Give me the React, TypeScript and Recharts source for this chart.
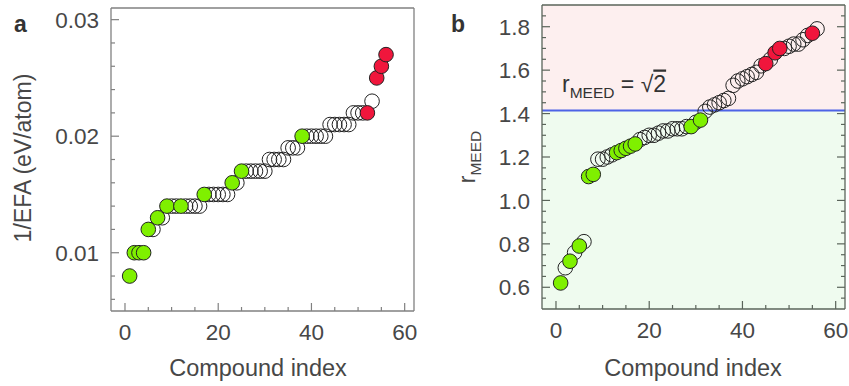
import React from 'react';
import { ScatterChart, Scatter, XAxis, YAxis, ReferenceArea, ReferenceLine } from 'recharts';

// compound index (x) shared by both panels
const compoundIndex = [
  1, 2, 3, 4, 5, 6, 7, 8, 9, 10, 11, 12, 13, 14, 15, 16, 17, 18, 19, 20,
  21, 22, 23, 24, 25, 26, 27, 28, 29, 30, 31, 32, 33, 34, 35, 36, 37, 38, 39, 40,
  41, 42, 43, 44, 45, 46, 47, 48, 49, 50, 51, 52, 53, 54, 55, 56,
];

// panel a: 1/EFA (eV/atom), sorted
const invEfa = [
  0.008, 0.010, 0.010, 0.010, 0.012, 0.012, 0.013, 0.013,
  0.014, 0.014, 0.014, 0.014, 0.014, 0.014, 0.014, 0.014,
  0.015, 0.015, 0.015, 0.015, 0.015, 0.015, 0.016, 0.016,
  0.017, 0.017, 0.017, 0.017, 0.017, 0.017, 0.018, 0.018, 0.018, 0.018,
  0.019, 0.019, 0.019, 0.020, 0.020, 0.020, 0.020, 0.020, 0.020,
  0.021, 0.021, 0.021, 0.021, 0.021, 0.022, 0.022, 0.022, 0.022,
  0.023, 0.025, 0.026, 0.027,
];
const efaGreen = [1, 2, 3, 4, 5, 7, 9, 12, 17, 23, 25, 38];
const efaRed = [52, 54, 55, 56];

// panel b: r_MEED, sorted
const rMeed = [
  0.62, 0.69, 0.72, 0.76, 0.79, 0.81, 1.11, 1.12, 1.19, 1.19, 1.20, 1.21,
  1.22, 1.23, 1.24, 1.25, 1.26, 1.28, 1.29, 1.30, 1.30, 1.31, 1.32, 1.32,
  1.33, 1.33, 1.33, 1.34, 1.34, 1.36, 1.37, 1.41, 1.43, 1.44, 1.45, 1.46,
  1.47, 1.53, 1.55, 1.56, 1.57, 1.58, 1.59, 1.62, 1.63, 1.65, 1.68, 1.70,
  1.70, 1.71, 1.72, 1.72, 1.74, 1.76, 1.77, 1.79,
];
const rGreen = [1, 3, 5, 7, 8, 13, 14, 15, 16, 17, 29, 31];
const rRed = [45, 47, 48, 55];
const rThreshold = Math.SQRT2;

// ticks
const xTicks = [0, 5, 10, 15, 20, 25, 30, 35, 40, 45, 50, 55, 60];
const xMajor = [0, 20, 40, 60];
const efaTicks = [0.006, 0.008, 0.01, 0.012, 0.014, 0.016, 0.018, 0.02, 0.022, 0.024, 0.026, 0.028, 0.03];
const efaMajor = [0.01, 0.02, 0.03];
const rTicks = [
  0.55, 0.6, 0.65, 0.7, 0.75, 0.8, 0.85, 0.9, 0.95, 1, 1.05, 1.1, 1.15, 1.2, 1.25,
  1.3, 1.35, 1.4, 1.45, 1.5, 1.55, 1.6, 1.65, 1.7, 1.75, 1.8, 1.85,
];
const rMajor = [0.6, 0.8, 1, 1.2, 1.4, 1.6, 1.8];

const FONT = '"Liberation Sans", Arial, sans-serif';
const TEXT = '#474747';
const GREEN = '#7ff000';
const RED = '#f0163c';

const split = (vals: number[], green: number[], red: number[]) => {
  const pts = compoundIndex.map((x, i) => ({ x, y: vals[i] }));
  return {
    open: pts.filter(p => !green.includes(p.x) && !red.includes(p.x)),
    green: pts.filter(p => green.includes(p.x)),
    red: pts.filter(p => red.includes(p.x)),
  };
};

const efaPts = split(invEfa, efaGreen, efaRed);
const rPts = split(rMeed, rGreen, rRed);

const dot = (fill: string) => (p: any) => (
  <circle cx={p.cx} cy={p.cy} r={7.3} fill={fill} stroke="#222" strokeWidth={1} />
);

// inward tick marks, labels only on majors
const axisTick = (side: string, majors: number[], color: string, fmt?: (v: number) => string) => (props: any) => {
  const { x, y, payload } = props;
  const v = payload.value;
  const major = majors.includes(v);
  const len = major ? 8 : 4;
  const label = fmt && major ? fmt(v) : '';
  if (side === 'left') {
    return (
      <g>
        <line x1={x} x2={x + len} y1={y} y2={y} stroke={color} strokeWidth={1.2} />
        {label && (
          <text x={x - 12} y={y} dy="0.36em" textAnchor="end" fontSize={22.5} fontFamily={FONT} fill={TEXT}>{label}</text>
        )}
      </g>
    );
  }
  if (side === 'right') {
    return <line x1={x} x2={x - len} y1={y} y2={y} stroke={color} strokeWidth={1.2} />;
  }
  if (side === 'top') {
    return <line x1={x} x2={x} y1={y} y2={y + len} stroke={color} strokeWidth={1.2} />;
  }
  return (
    <g>
      <line x1={x} x2={x} y1={y} y2={y - len} stroke={color} strokeWidth={1.2} />
      {label && (
        <text x={x} y={y + 29} textAnchor="middle" fontSize={22.5} fontFamily={FONT} fill={TEXT}>{label}</text>
      )}
    </g>
  );
};

const FRAME_A = '#808080';
const FRAME_B = '#5a645a';

export default function App() {
  return (
    <div style={{ position: 'absolute', left: 0, top: 0, width: 849, height: 386, background: '#fff', fontFamily: FONT }}>
      {/* panel a */}
      <div style={{ position: 'absolute', left: 0, top: 0 }}>
        <ScatterChart width={430} height={386} margin={{ top: 0, right: 0, bottom: 0, left: 0 }}>
          <XAxis
            xAxisId="b" type="number" dataKey="x" domain={[-3, 62]} allowDataOverflow
            ticks={xTicks} interval={0} height={75} tickSize={0} tickMargin={0} tickLine={false}
            axisLine={{ stroke: FRAME_A, strokeWidth: 1.3 }}
            tick={axisTick('bottom', xMajor, FRAME_A, v => String(v))}
          />
          <XAxis
            xAxisId="t" orientation="top" type="number" domain={[-3, 62]} allowDataOverflow
            height={8} tick={false} tickLine={false} axisLine={{ stroke: FRAME_A, strokeWidth: 1.3 }}
          />
          <YAxis
            yAxisId="l" type="number" dataKey="y" domain={[0.005, 0.031]} allowDataOverflow
            ticks={efaTicks} interval={0} width={111} tickSize={0} tickMargin={0} tickLine={false}
            axisLine={{ stroke: FRAME_A, strokeWidth: 1.3 }}
            tick={axisTick('left', efaMajor, FRAME_A, v => String(v))}
          />
          <YAxis
            yAxisId="r" orientation="right" type="number" domain={[0.005, 0.031]} allowDataOverflow
            width={16} tick={false} tickLine={false} axisLine={{ stroke: FRAME_A, strokeWidth: 1.3 }}
          />
          <Scatter xAxisId="b" yAxisId="l" data={efaPts.open} shape={dot('none')} isAnimationActive={false} />
          <Scatter xAxisId="b" yAxisId="l" data={efaPts.green} shape={dot(GREEN)} isAnimationActive={false} />
          <Scatter xAxisId="b" yAxisId="l" data={efaPts.red} shape={dot(RED)} isAnimationActive={false} />
        </ScatterChart>
      </div>

      {/* panel b */}
      <div style={{ position: 'absolute', left: 430, top: 0 }}>
        <ScatterChart width={419} height={386} margin={{ top: 0, right: 0, bottom: 0, left: 0 }}>
          <ReferenceArea xAxisId="b" yAxisId="l" x1={-3} x2={62} y1={0.5} y2={rThreshold} fill="#effbef" fillOpacity={1} stroke="none" />
          <ReferenceArea xAxisId="b" yAxisId="l" x1={-3} x2={62} y1={rThreshold} y2={1.9} fill="#fdefef" fillOpacity={1} stroke="none" />
          <ReferenceLine
            xAxisId="b" yAxisId="l" y={rThreshold} stroke="#4d63e6" strokeWidth={2}
            label={(p: any) => (
              <text x={p.viewBox.x + 20} y={p.viewBox.y - 18} fontSize={23} fontFamily={FONT} fill="#333">
                <tspan>r</tspan>
                <tspan dy={6} fontSize={15.5}>MEED</tspan>
                <tspan dy={-6}> = √</tspan>
                <tspan style={{ textDecoration: 'overline' }}>2</tspan>
              </text>
            )}
          />
          <XAxis
            xAxisId="b" type="number" dataKey="x" domain={[-3, 62]} allowDataOverflow
            ticks={xTicks} interval={0} height={77} tickSize={0} tickMargin={0} tickLine={false}
            axisLine={{ stroke: FRAME_B, strokeWidth: 1.3 }}
            tick={axisTick('bottom', xMajor, FRAME_B, v => String(v))}
          />
          <XAxis
            xAxisId="t" orientation="top" type="number" domain={[-3, 62]} allowDataOverflow
            ticks={xTicks} interval={0} height={5} tickSize={0} tickMargin={0} tickLine={false}
            axisLine={{ stroke: FRAME_B, strokeWidth: 1.3 }}
            tick={axisTick('top', xMajor, FRAME_B)}
          />
          <YAxis
            yAxisId="l" type="number" dataKey="y" domain={[0.5, 1.9]} allowDataOverflow
            ticks={rTicks} interval={0} width={112} tickSize={0} tickMargin={0} tickLine={false}
            axisLine={{ stroke: FRAME_B, strokeWidth: 1.3 }}
            tick={axisTick('left', rMajor, FRAME_B, v => v.toFixed(1))}
          />
          <YAxis
            yAxisId="r" orientation="right" type="number" domain={[0.5, 1.9]} allowDataOverflow
            ticks={rTicks} interval={0} width={4} tickSize={0} tickMargin={0} tickLine={false}
            axisLine={{ stroke: FRAME_B, strokeWidth: 1.3 }}
            tick={axisTick('right', rMajor, FRAME_B)}
          />
          <Scatter xAxisId="b" yAxisId="l" data={rPts.open} shape={dot('none')} isAnimationActive={false} />
          <Scatter xAxisId="b" yAxisId="l" data={rPts.green} shape={dot(GREEN)} isAnimationActive={false} />
          <Scatter xAxisId="b" yAxisId="l" data={rPts.red} shape={dot(RED)} isAnimationActive={false} />
        </ScatterChart>
      </div>

      {/* titles */}
      <svg width={849} height={386} style={{ position: 'absolute', left: 0, top: 0, pointerEvents: 'none' }}>
        <text x={14} y={32} fontSize={23} fontWeight="bold" fontFamily={FONT} fill="#333">a</text>
        <text x={451} y={32} fontSize={23} fontWeight="bold" fontFamily={FONT} fill="#333">b</text>
        <text x={31} y={158} transform="rotate(-90 31 158)" textAnchor="middle" fontSize={23} fontFamily={FONT} fill={TEXT}>
          1/EFA (eV/atom)
        </text>
        <text x={475} y={157} transform="rotate(-90 475 157)" textAnchor="middle" fontSize={23} fontFamily={FONT} fill={TEXT}>
          <tspan>r</tspan>
          <tspan dy={6} fontSize={15.5}>MEED</tspan>
        </text>
        <text x={258} y={376} textAnchor="middle" fontSize={23.5} fontFamily={FONT} fill={TEXT}>Compound index</text>
        <text x={693} y={376} textAnchor="middle" fontSize={23.5} fontFamily={FONT} fill={TEXT}>Compound index</text>
      </svg>
    </div>
  );
}
